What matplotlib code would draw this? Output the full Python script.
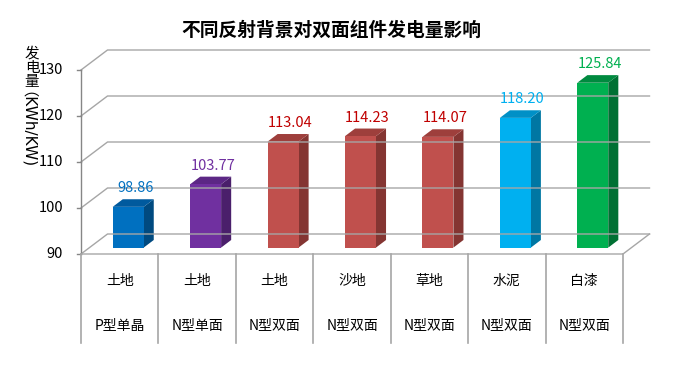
import matplotlib
matplotlib.use("Agg")
import matplotlib.pyplot as plt
from matplotlib.patches import Polygon

plt.rcParams['font.family'] = ['Noto Sans CJK SC', 'DejaVu Sans']

# data
backgrounds = ["土地", "土地", "土地", "沙地", "草地", "水泥", "白漆"]
modules = ["P型单晶", "N型单面", "N型双面", "N型双面", "N型双面", "N型双面", "N型双面"]
energy = [98.86, 103.77, 113.04, 114.23, 114.07, 118.20, 125.84]
yticks = [90, 100, 110, 120, 130]

face_colors = ["#0070C0", "#7030A0", "#C0504D", "#C0504D", "#C0504D", "#00B0F0", "#00B050"]
side_colors = ["#004A80", "#4A1F6B", "#843532", "#843532", "#843532", "#0077A3", "#007033"]
top_colors = ["#005A9E", "#5C2785", "#9E3F3C", "#9E3F3C", "#9E3F3C", "#0090C6", "#008A3F"]
label_colors = ["#0070C0", "#7030A0", "#C00000", "#C00000", "#C00000", "#00B0F0", "#00B050"]

W, H_px = 690, 365
fig = plt.figure(figsize=(W / 100, H_px / 100), dpi=100)

# front plane of the 3d box (pixels)
left_px, right_px, y90_px, y130_px = 81, 623, 254, 70
ax = fig.add_axes([left_px / W, 1 - y90_px / H_px,
                   (right_px - left_px) / W, (y90_px - y130_px) / H_px])
n = len(energy)
ax.set_xlim(-0.5, n - 0.5)
ax.set_ylim(yticks[0], yticks[-1])
ax.axis("off")

px_x = (right_px - left_px) / n              # pixels per category
px_y = (y90_px - y130_px) / (yticks[-1] - yticks[0])  # pixels per unit
D = 26.5 / px_x      # depth offset in category units
Hd = 20 / px_y       # depth offset in value units

grid_c = "#A6A6A6"
x0, x1 = -0.5, n - 0.5
ymin = yticks[0]
for v in yticks:
    ax.plot([x0, x0 + D, x1 + D], [v, v + Hd, v + Hd], color=grid_c, lw=1, clip_on=False)
    ax.plot([x0 - 4 / px_x, x0], [v, v], color="#868686", lw=1, clip_on=False)
    ax.text(x0 - 18 / px_x, v, str(v), ha="right", va="center", fontsize=10.5, color="black")
ax.plot([x0, x0], [ymin, yticks[-1]], color="#868686", lw=1, clip_on=False)
ax.plot([x0, x1, x1 + D], [ymin, ymin, ymin + Hd], color=grid_c, lw=1, clip_on=False)

# category table under the floor
table_bottom = ymin - 89 / px_y
for k in range(n + 1):
    ax.plot([x0 + k, x0 + k], [ymin, table_bottom], color=grid_c, lw=1.2, clip_on=False)
for i in range(n):
    ax.text(i, ymin - 27 / px_y, backgrounds[i], ha="center", va="center", fontsize=10)
    ax.text(i, ymin - 72 / px_y, modules[i], ha="center", va="center", fontsize=10)

# 3d bars
f = 0.32      # depth position of the bar front
d = 0.38      # bar depth
bw = 0.40
for i, v in enumerate(energy):
    xl = i - bw / 2 + f * D
    xr = xl + bw
    yb = ymin + f * Hd
    yt = v + f * Hd
    dx, dy = d * D, d * Hd
    front = Polygon([(xl, yb), (xr, yb), (xr, yt), (xl, yt)], closed=True,
                    fc=face_colors[i], ec="none", clip_on=False)
    side = Polygon([(xr, yb), (xr + dx, yb + dy), (xr + dx, yt + dy), (xr, yt)], closed=True,
                   fc=side_colors[i], ec="none", clip_on=False)
    top = Polygon([(xl, yt), (xr, yt), (xr + dx, yt + dy), (xl + dx, yt + dy)], closed=True,
                  fc=top_colors[i], ec="none", clip_on=False)
    for p in (side, top, front):
        ax.add_patch(p)
    ax.text(i + f * D + dx * 0.5 + 2 / px_x, yt + dy + 11 / px_y, f"{v:.2f}",
            ha="center", va="center", fontsize=10.5, color=label_colors[i])

# title
fig.text(331 / W, 1 - 30 / H_px, "不同反射背景对双面组件发电量影响",
         ha="center", va="center", fontsize=13.5, fontweight="bold")

# y label: stacked chars then rotated unit
for j, ch in enumerate("发电量"):
    fig.text(32 / W, 1 - (54 + j * 14) / H_px, ch, ha="center", va="center", fontsize=10.5)
fig.text(20 / W, 1 - 91 / H_px, "（KWh/KW)", ha="center", va="top", rotation=270,
         fontsize=11, family=["DejaVu Sans", "Noto Sans CJK SC"])

fig.savefig("out.png", dpi=100)
